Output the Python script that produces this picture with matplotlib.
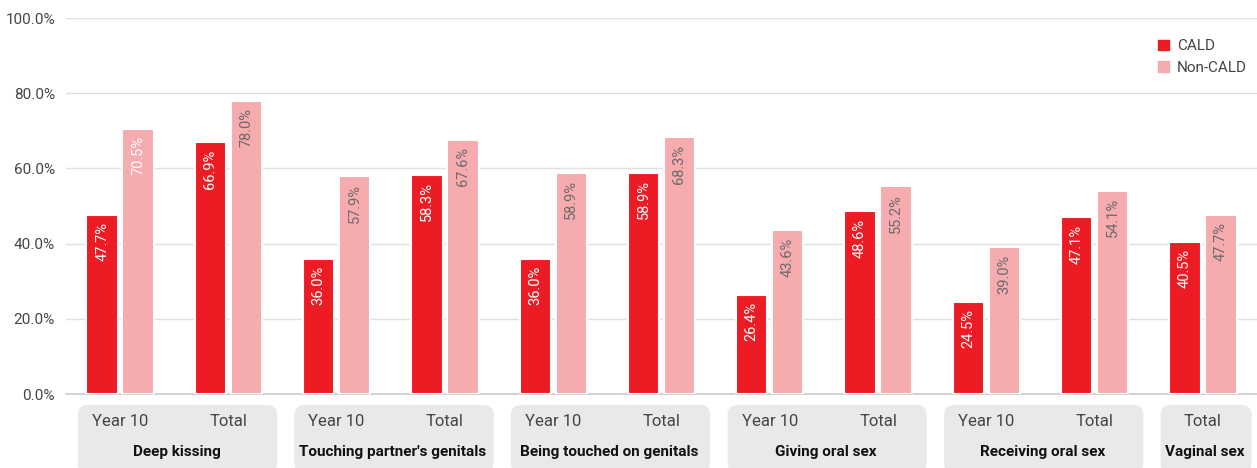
import numpy as np
import matplotlib.pyplot as plt
from matplotlib.patches import FancyBboxPatch, Patch

plt.rcParams['font.family'] = ['Roboto', 'DejaVu Sans']

# categories along the x axis, grouped by behaviour
cat_labels = ['Year 10', 'Total', 'Year 10', 'Total', 'Year 10', 'Total',
              'Year 10', 'Total', 'Year 10', 'Total', 'Total']
groups = ['Deep kissing', "Touching partner's genitals", 'Being touched on genitals',
          'Giving oral sex', 'Receiving oral sex', 'Vaginal sex']
group_members = [[0, 1], [2, 3], [4, 5], [6, 7], [8, 9], [10]]

cald = [47.7, 66.9, 36.0, 58.3, 36.0, 58.9, 26.4, 48.6, 24.5, 47.1, 40.5]
non_cald = [70.5, 78.0, 57.9, 67.6, 58.9, 68.3, 43.6, 55.2, 39.0, 54.1, 47.7]

red = '#ed1c24'
pink = '#f6abaf'

W, H = 1257, 468
fig = plt.figure(figsize=(W / 100, H / 100), dpi=100)
ax = fig.add_axes([66 / W, 74 / H, (W - 66) / W, 376 / H])

x = np.arange(len(cat_labels))
off = 0.166
bw = 0.29
ax.bar(x - off, cald, bw, color=red, edgecolor='white', linewidth=1.5, zorder=3, label='CALD')
ax.bar(x + off, non_cald, bw, color=pink, edgecolor='white', linewidth=1.5, zorder=3, label='Non-CALD')

for i in range(len(x)):
    ax.text(x[i] - off, cald[i] - 2, f'{cald[i]:.1f}%', rotation=90, ha='center', va='top',
            color='white', fontsize=10.5, zorder=4)
    c = 'white' if i == 0 else '#6b6b6b'
    ax.text(x[i] + off, non_cald[i] - 2, f'{non_cald[i]:.1f}%', rotation=90, ha='center', va='top',
            color=c, fontsize=10.5, zorder=4)

ax.set_xlim(-0.5, len(x) - 0.5)
ax.set_ylim(0, 100)
ax.set_yticks(np.arange(0, 101, 20))
ax.set_yticklabels([f'{v:.1f}%' for v in np.arange(0, 101, 20)], fontsize=11,
                   color='#444444')
ax.tick_params(axis='y', length=0, pad=8)
ax.set_xticks([])
ax.grid(axis='y', color='#e0e0e0', linewidth=1, zorder=0)
for s in ['top', 'right', 'left']:
    ax.spines[s].set_visible(False)
ax.spines['bottom'].set_color('#cccccc')
ax.spines['bottom'].set_linewidth(1.2)

# grey boxes under each group with the sub-labels
for name, members in zip(groups, group_members):
    x0 = ax.transData.transform((members[0] - 0.5 + 0.11, 0))[0] / 100
    x1 = ax.transData.transform((members[-1] + 0.5 - 0.05, 0))[0] / 100
    box = FancyBboxPatch((x0, -0.05), x1 - x0, (H - 405) / 100 + 0.05,
                         boxstyle='round,pad=0,rounding_size=0.1',
                         transform=fig.dpi_scale_trans, facecolor='#e8e9e9',
                         edgecolor='none', zorder=0)
    fig.add_artist(box)
    for m in members:
        ax.text(m, -7.4, cat_labels[m], ha='center', va='center', fontsize=12,
                color='#444444', clip_on=False)
    ax.text(np.mean(members) + 0.02, -15.3, name, ha='center', va='center', fontsize=11,
            fontweight='bold', color='#111111', clip_on=False)

handles = [Patch(color=red, label='CALD'), Patch(color=pink, label='Non-CALD')]
ax.legend(handles=handles, loc='upper right', bbox_to_anchor=(1.003, 0.98), frameon=False,
          fontsize=11, handlelength=0.7, handleheight=0.7, handletextpad=0.5,
          labelspacing=0.5, labelcolor='#444444')

fig.savefig('out.png', dpi=100)
